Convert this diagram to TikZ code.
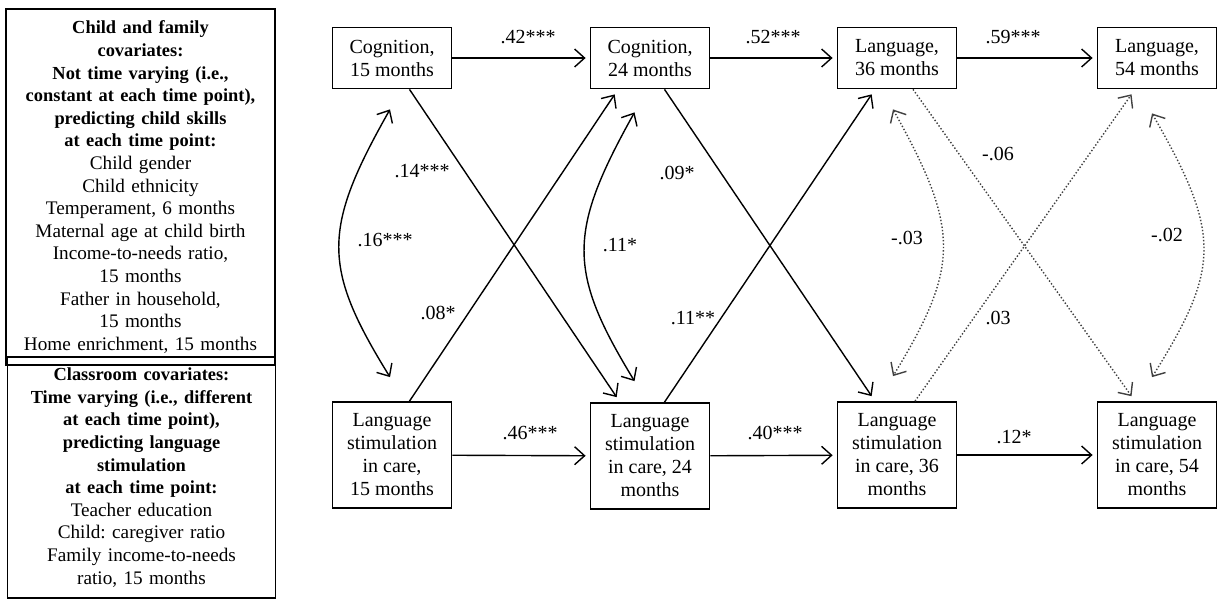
\documentclass[tikz,border=0pt]{standalone}
\usepackage{fontspec}
\setmainfont{Liberation Serif}
\usetikzlibrary{arrows.meta}
\frenchspacing

\newcommand{\hd}[1]{{\fontsize{9.2}{11.3}\selectfont\bfseries #1}}

\tikzset{
  var/.style={draw, line width=0.9pt, minimum width=59.5pt, align=center, inner sep=1pt,
    font=\fontsize{10}{11.5}\selectfont},
  cov/.style={draw, line width=0.9pt, text width=130pt, align=center, inner sep=2pt,
    font=\fontsize{9.6}{11.3}\selectfont},
  effect/.style={line width=0.7pt, -{Straight Barb[length=5pt,width=9pt]}},
  corr/.style={line width=0.7pt, {Straight Barb[length=5pt,width=9pt]}-{Straight Barb[length=5pt,width=9pt]}},
  ns/.style={black!75, densely dotted},
  lab/.style={font=\fontsize{10}{12}\selectfont, inner sep=1pt}
}

\begin{document}
\begin{tikzpicture}[x=0.5pt,y=-0.5pt]
\useasboundingbox (0,0) rectangle (1218,600);

\node[cov, minimum width=134.5pt, minimum height=178pt] (childCov) at (140.5,187)
  {\hd{Child and family}\\\hd{covariates:}\\\hd{Not time varying (i.e.,}\\
   \hd{constant at each time point),}\\\hd{predicting child skills}\\
   \hd{at each time point:}\\Child gender\\Child ethnicity\\Temperament, 6 months\\
   Maternal age at child birth\\Income-to-needs ratio,\\15 months\\Father in household,\\
   15 months\\Home enrichment, 15 months};
\node[cov, minimum width=133.5pt, minimum height=120.5pt] (classCov) at (141.5,477.5)
  {\hd{Classroom covariates:}\\\hd{Time varying (i.e., different}\\
   \hd{at each time point),}\\\hd{predicting language}\\\hd{stimulation}\\
   \hd{at each time point:}\\Teacher education\\Child: caregiver ratio\\
   Family income-to-needs\\ratio, 15 months};

\node[var, minimum height=30.5pt] (C15) at (392,58) {Cognition,\\15 months};
\node[var, minimum height=30.5pt] (C24) at (650,58) {Cognition,\\24 months};
\node[var, minimum height=30.5pt] (L36) at (897,58) {Language,\\36 months};
\node[var, minimum height=30.5pt] (L54) at (1157,58) {Language,\\54 months};

\node[var, minimum height=53pt] (LS15) at (392,455) {Language\\stimulation\\in care,\\15 months};
\node[var, minimum height=53pt] (LS24) at (650,456) {Language\\stimulation\\in care, 24\\months};
\node[var, minimum height=53pt] (LS36) at (897,455) {Language\\stimulation\\in care, 36\\months};
\node[var, minimum height=53pt] (LS54) at (1157,455) {Language\\stimulation\\in care, 54\\months};

\draw[effect, shorten >=2pt] (C15) -- (C24);
\draw[effect, shorten >=2pt] (C24) -- (L36);
\draw[effect, shorten >=2pt] (L36) -- (L54);
\draw[effect, shorten >=2pt] (LS15) -- (LS24);
\draw[effect, shorten >=2pt] (LS24) -- (LS36);
\draw[effect, shorten >=2pt] (LS36) -- (LS54);

\draw[effect, shorten >=3pt] ([xshift=8.75pt]C15.south) -- ([xshift=-15pt]LS24.north);
\draw[effect, shorten >=3pt] ([xshift=8.75pt]LS15.north) -- ([xshift=-16pt]C24.south);
\draw[effect, shorten >=3pt] ([xshift=7.25pt]C24.south) -- ([xshift=-11pt]LS36.north);
\draw[effect, shorten >=3pt] ([xshift=7.25pt]LS24.north) -- ([xshift=-11pt]L36.south);
\draw[effect, ns, shorten >=3pt] ([xshift=8pt]L36.south) -- ([xshift=-11pt]LS54.north);
\draw[effect, ns, shorten >=3pt] ([xshift=9pt]LS36.north) -- ([xshift=-11pt]L54.south);

\draw[corr] ([xshift=-1pt,yshift=-10pt]C15.south) .. controls +(-68,120) and +(-68,-110) .. ([xshift=-1pt,yshift=12pt]LS15.north);
\draw[corr] ([xshift=-7.75pt,yshift=-11.5pt]C24.south) .. controls +(-67,120) and +(-67,-110) .. ([xshift=-7.75pt,yshift=10.5pt]LS24.north);
\draw[corr, ns] ([xshift=-2pt,yshift=-10pt]L36.south) .. controls +(67,120) and +(67,-110) .. ([xshift=-2pt,yshift=12.5pt]LS36.north);
\draw[corr, ns] ([xshift=-2.5pt,yshift=-12pt]L54.south) .. controls +(69,120) and +(69,-110) .. ([xshift=-2.5pt,yshift=12pt]LS54.north);

\node[lab] (l42) at (528,37) {.42***};
\node[lab] (l52) at (773,37) {.52***};
\node[lab] (l59) at (1013,37) {.59***};
\node[lab] (l46) at (530,433) {.46***};
\node[lab] (l40) at (775,433) {.40***};
\node[lab] (l12) at (1014,437) {.12*};

\node[lab] (l14) at (422,171) {.14***};
\node[lab] (l16) at (385,240) {.16***};
\node[lab] (l09) at (677,173) {.09*};
\node[lab] (l11a) at (620,245) {.11*};
\node[lab] (l08) at (438,313) {.08*};
\node[lab] (l11b) at (693,318) {.11**};
\node[lab] (l06) at (998,154) {-.06};
\node[lab] (l03a) at (907,238) {-.03};
\node[lab] (l02) at (1167,235) {-.02};
\node[lab] (l03b) at (998,318) {.03};

\end{tikzpicture}
\end{document}
